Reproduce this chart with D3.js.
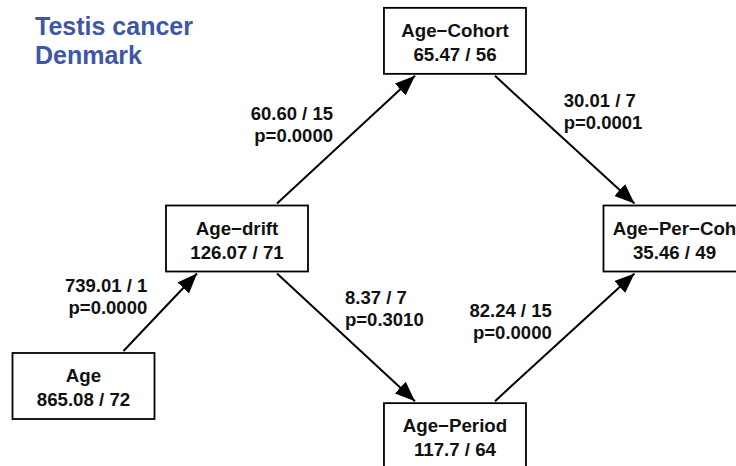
<!DOCTYPE html>
<html>
<head>
<meta charset="utf-8">
<style>
    body { margin: 0; background: #fff; }
    svg text { font-family: "Liberation Sans", Arial, Helvetica, sans-serif; font-weight: bold; }
</style>
</head>
<body>
<svg width="736" height="466"></svg>
<script src="https://d3js.org/d3.v7.min.js"></script>
<script>
    // models (boxes)
    var models = ["Age", "Age\u2212drift", "Age\u2212Cohort", "Age\u2212Period", "Age\u2212Per\u2212Coh"];
    var deviance = [865.08, 126.07, 65.47, 117.7, 35.46];
    var resDf = [72, 71, 56, 64, 49];
    // layout position of each model, in grid units
    var col = [0, 1, 2.42, 2.42, 3.85];
    var row = [0, 1, 2.34, -0.34, 1];

    // tests between models (arrows)
    var fromModel = [0, 1, 1, 2, 3];
    var toModel = [1, 2, 3, 4, 4];
    var lrStat = [739.01, 60.60, 8.37, 30.01, 82.24];
    var lrDf = [1, 15, 7, 7, 15];
    var pValue = [0.0000, 0.0000, 0.3010, 0.0001, 0.0000];

    var titleLines = ["Testis cancer", "Denmark"];

    var svg = d3.select("svg");

    var x = d3.scaleLinear().domain([0, 1]).range([83.5, 237]);
    var y = d3.scaleLinear().domain([0, 1]).range([386, 238.5]);

    var boxW = 142, boxH = 66;

    svg.append("defs").append("marker")
        .attr("id", "head")
        .attr("viewBox", "0 0 20 16")
        .attr("refX", 20)
        .attr("refY", 8)
        .attr("markerWidth", 20)
        .attr("markerHeight", 16)
        .attr("markerUnits", "userSpaceOnUse")
        .attr("orient", "auto")
        .append("path")
        .attr("d", "M0,0 L20,8 L0,16 Z")
        .attr("fill", "#000");

    var nodes = models.map(function (m, i) {
        return { name: m, dev: deviance[i], df: resDf[i], cx: x(col[i]), cy: y(row[i]) };
    });

    var edges = fromModel.map(function (f, i) {
        var a = nodes[f], b = nodes[toModel[i]];
        var up = b.cy < a.cy;
        var x1 = a.cx + 40, x2 = b.cx - 40;
        var y1 = up ? a.cy - boxH / 2 - 2 : a.cy + boxH / 2 + 2;
        var y2 = up ? b.cy + boxH / 2 + 2 : b.cy - boxH / 2 - 2;
        return { x1: x1, y1: y1, x2: x2, y2: y2, up: up, lr: lrStat[i], df: lrDf[i], p: pValue[i] };
    });

    // arrows
    svg.selectAll("line.edge")
        .data(edges)
        .enter()
        .append("line")
        .attr("class", "edge")
        .attr("x1", function (d) { return d.x1; })
        .attr("y1", function (d) { return d.y1; })
        .attr("x2", function (d) { return d.x2; })
        .attr("y2", function (d) { return d.y2; })
        .attr("stroke", "#000")
        .attr("stroke-width", 2)
        .attr("marker-end", "url(#head)");

    // arrow labels
    var lab = svg.selectAll("text.elab")
        .data(edges)
        .enter()
        .append("text")
        .attr("class", "elab")
        .attr("font-size", 18.5)
        .attr("fill", "#111")
        .attr("text-anchor", function (d) { return d.up ? "end" : "start"; })
        .attr("transform", function (d) {
            var mx = (d.x1 + d.x2) / 2, my = (d.y1 + d.y2) / 2;
            return d.up ? "translate(" + (mx - 13) + "," + (my - 20) + ")"
                        : "translate(" + (mx - 1) + "," + (my - 33) + ")";
        });
    lab.append("tspan").attr("x", 0).attr("y", 0)
        .text(function (d) { return d.lr.toFixed(2) + " / " + d.df; });
    lab.append("tspan").attr("x", 0).attr("y", 22)
        .text(function (d) { return "p=" + d.p.toFixed(4); });

    // boxes
    var g = svg.selectAll("g.node")
        .data(nodes)
        .enter()
        .append("g")
        .attr("class", "node")
        .attr("transform", function (d) { return "translate(" + d.cx + "," + d.cy + ")"; });

    g.append("rect")
        .attr("x", -boxW / 2)
        .attr("y", -boxH / 2)
        .attr("width", boxW)
        .attr("height", boxH)
        .attr("fill", "#fff")
        .attr("stroke", "#000")
        .attr("stroke-width", 1.8);

    g.append("text")
        .attr("text-anchor", "middle")
        .attr("font-size", 18.7)
        .attr("fill", "#111")
        .attr("y", -4)
        .text(function (d) { return d.name; });

    g.append("text")
        .attr("text-anchor", "middle")
        .attr("font-size", 18.7)
        .attr("fill", "#111")
        .attr("y", 20)
        .text(function (d) { return d.dev + " / " + d.df; });

    // title
    svg.selectAll("text.title")
        .data(titleLines)
        .enter()
        .append("text")
        .attr("class", "title")
        .attr("x", 35)
        .attr("y", function (d, i) { return 35 + i * 29; })
        .attr("font-size", 25)
        .attr("fill", "#3d57a7")
        .text(function (d) { return d; });
</script>
</body>
</html>
